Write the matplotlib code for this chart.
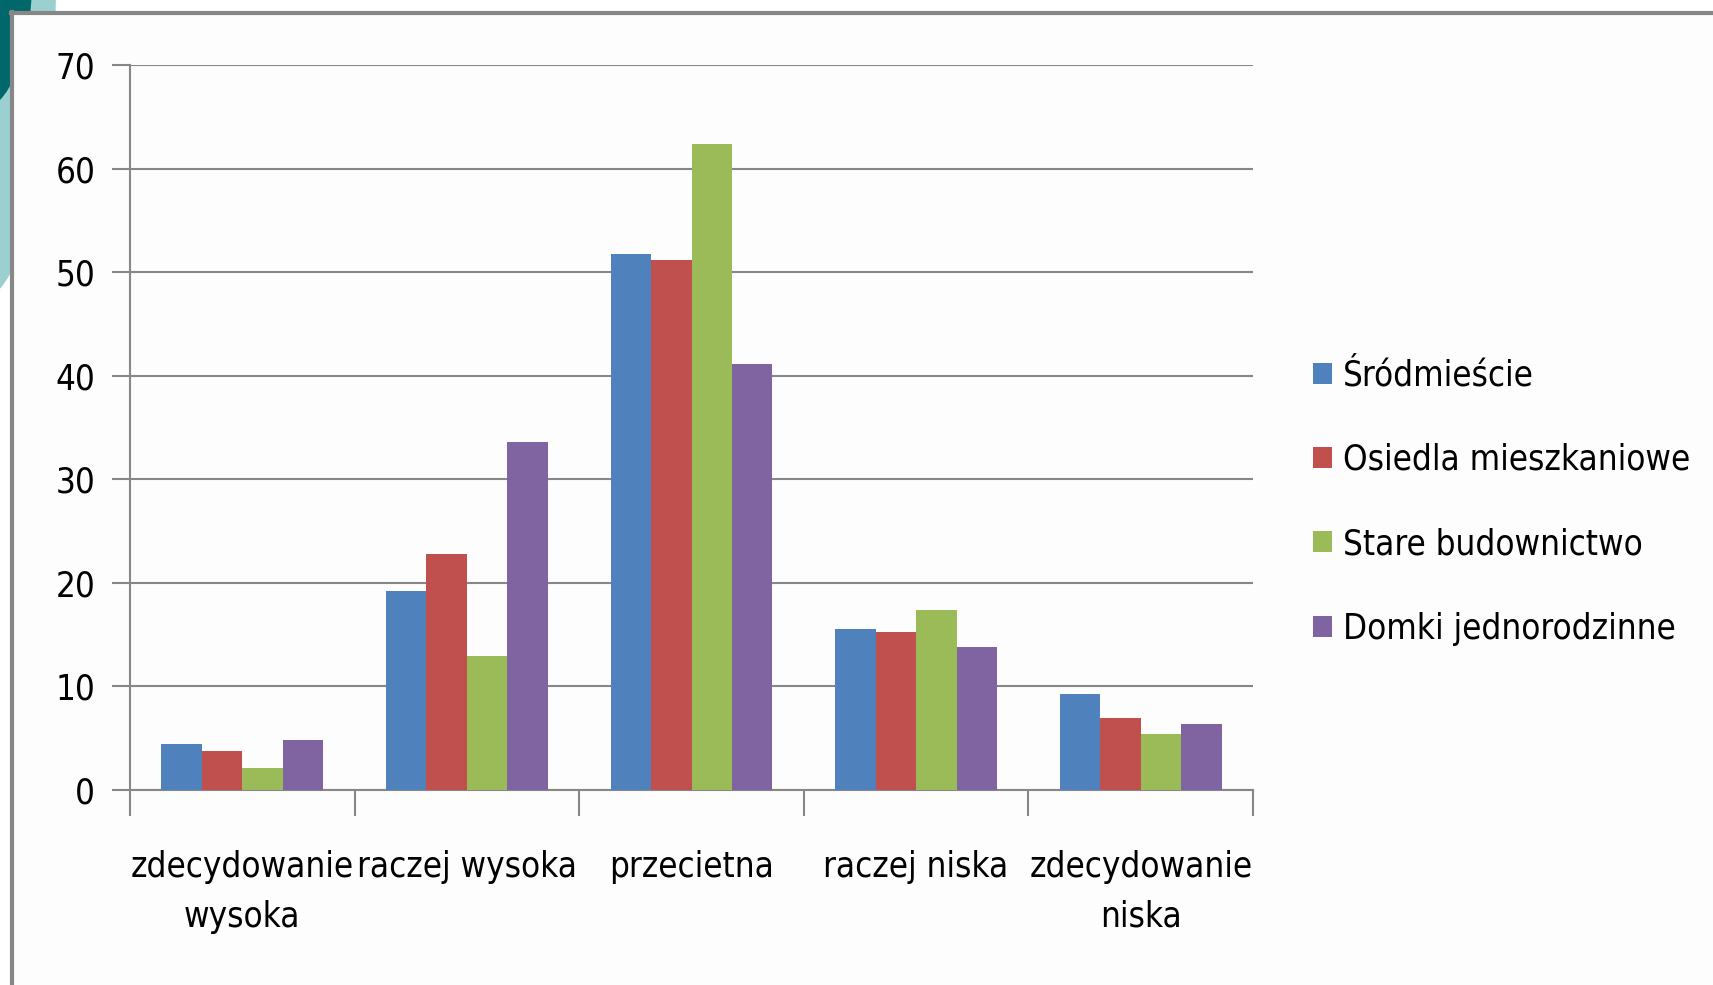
import numpy as np
import matplotlib
matplotlib.use("Agg")
import matplotlib.pyplot as plt
from matplotlib import font_manager
from matplotlib.patches import Ellipse, Rectangle
from matplotlib.lines import Line2D

# data
categories = ["zdecydowanie\nwysoka", "raczej wysoka", "przecietna", "raczej niska", "zdecydowanie\nniska"]
series_names = ["Śródmieście", "Osiedla mieszkaniowe", "Stare budownictwo", "Domki jednorodzinne"]
srodmiescie = [4.4, 19.2, 51.8, 15.5, 9.3]
osiedla = [3.8, 22.8, 51.2, 15.3, 7.0]
stare = [2.1, 12.9, 62.4, 17.4, 5.4]
domki = [4.8, 33.6, 41.1, 13.8, 6.4]
colors = ["#4F81BD", "#C0504D", "#9BBB59", "#8064A2"]
yticks = [0, 10, 20, 30, 40, 50, 60, 70]

# look for a narrow font (original uses Calibri-like narrow text)
narrow = [f for f in font_manager.fontManager.ttflist
          if ("narrow" in f.name.lower() or "condensed" in str(f.stretch).lower()
              or "condensed" in f.fname.lower())]
if narrow:
    fam = narrow[0].name
    plt.rcParams['font.family'] = [fam, 'DejaVu Sans']
    plt.rcParams['font.stretch'] = 'condensed'
    fs = 25
else:
    plt.rcParams['font.family'] = ['DejaVu Sans']
    fs = 21

W, H = 1713, 985
fig = plt.figure(figsize=(W / 100, H / 100), dpi=100)

# background decoration (slide corner + frame)
bg = fig.add_axes([0, 0, 1, 1], zorder=-1)
bg.set_xlim(0, W)
bg.set_ylim(H, 0)
bg.axis("off")
bg.add_patch(Ellipse((-20, -20), 152, 640, color="#9CCFD0", lw=0))
bg.add_patch(Ellipse((-20, -20), 104, 260, color="#00686A", lw=0))
bg.add_patch(Rectangle((12, 13), W, H, color="#FDFDFD", lw=0))
bg.add_line(Line2D([12, 12], [12, H], color="#878787", lw=3))
bg.add_line(Line2D([11, W], [13, 13], color="#878787", lw=3))

# main chart
ax = fig.add_axes([130 / W, 1 - 790 / H, (1253 - 130) / W, (790 - 65) / H])
ax.set_facecolor("none")

x = np.arange(len(categories))
bw = 0.18
all_series = [srodmiescie, osiedla, stare, domki]
for i, (vals, name, c) in enumerate(zip(all_series, series_names, colors)):
    ax.bar(x + (i - 1.5) * bw, vals, bw, color=c, label=name, zorder=3)

ax.set_xlim(-0.5, len(categories) - 0.5)
ax.set_ylim(0, 70)
ax.set_yticks(yticks)
ax.yaxis.grid(True, color="#878787", lw=1.5, zorder=0)
ax.tick_params(axis="y", length=13, width=1.5, color="#878787", pad=12, labelsize=fs)

# category boundaries as major ticks, labels on minor ticks
ax.set_xticks(np.arange(-0.5, len(categories)))
ax.set_xticklabels([])
ax.set_xticks(x, minor=True)
ax.set_xticklabels(categories, minor=True, fontsize=fs, linespacing=1.6)
ax.tick_params(axis="x", which="major", length=19, width=1.5, color="#878787")
ax.tick_params(axis="x", which="minor", length=0, pad=43)

for s in ["top", "right"]:
    ax.spines[s].set_visible(False)
for s in ["left", "bottom"]:
    ax.spines[s].set_color("#878787")
    ax.spines[s].set_linewidth(1.5)

fig.legend(loc="center left", bbox_to_anchor=(1313 / W, 1 - 502 / H), frameon=False,
           fontsize=fs, handlelength=0.55, handleheight=0.55, handletextpad=0.3,
           labelspacing=1.45, borderpad=0, borderaxespad=0)

fig.savefig("out.png", dpi=100)
